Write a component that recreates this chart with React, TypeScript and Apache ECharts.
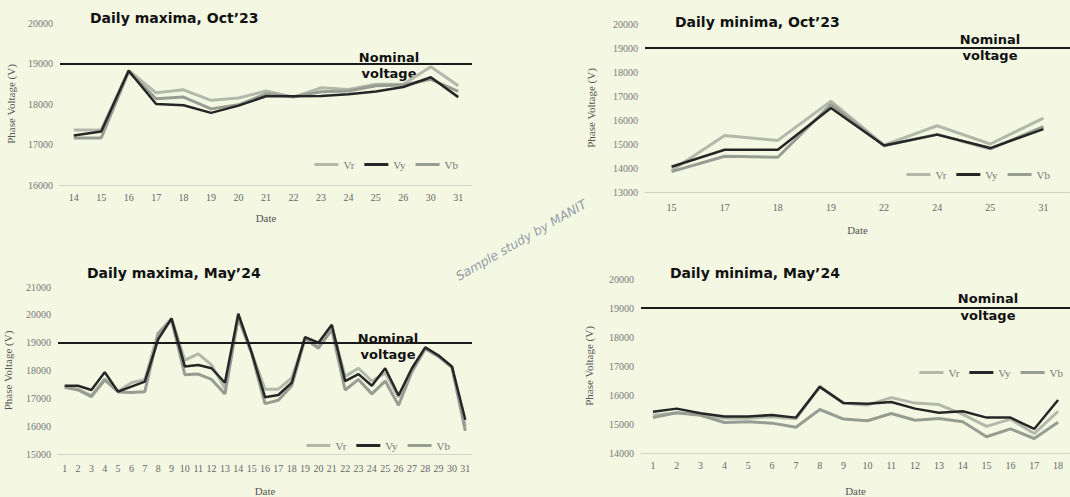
import React, { useEffect, useRef } from "react";
import * as echarts from "echarts";

// Panel 1: Daily maxima, Oct'23
const oct23MaxDates = ["14", "15", "16", "17", "18", "19", "20", "21", "22", "23", "24", "25", "26", "30", "31"];
const oct23MaxVr = [17360, 17360, 18830, 18275, 18350, 18090, 18150, 18320, 18170, 18400, 18360, 18490, 18490, 18920, 18450];
const oct23MaxVy = [17220, 17320, 18820, 18000, 17970, 17780, 17960, 18190, 18190, 18200, 18240, 18310, 18420, 18660, 18170];
const oct23MaxVb = [17160, 17160, 18800, 18130, 18170, 17880, 17980, 18250, 18180, 18300, 18320, 18450, 18470, 18610, 18310];

// Panel 2: Daily minima, Oct'23
const oct23MinDates = ["15", "17", "18", "19", "22", "24", "25", "31"];
const oct23MinVr = [13900, 15350, 15150, 16780, 14950, 15760, 15000, 16080];
const oct23MinVy = [14050, 14760, 14760, 16500, 14940, 15390, 14830, 15620];
const oct23MinVb = [13850, 14490, 14450, 16650, 14930, 15400, 14800, 15720];

// Panel 3: Daily maxima, May'24
const may24MaxDates = ["1", "2", "3", "4", "5", "6", "7", "8", "9", "10", "11", "12", "13", "14", "15", "16", "17", "18", "19", "20", "21", "22", "23", "24", "25", "26", "27", "28", "29", "30", "31"];
const may24MaxVr = [17430, 17330, 17100, 17700, 17250, 17560, 17680, 19350, 19870, 18370, 18600, 18200, 17350, 19920, 18650, 17330, 17330, 17730, 19150, 18850, 19600, 17790, 18080, 17620, 17910, 17040, 18000, 18800, 18520, 18150, 16000];
const may24MaxVy = [17450, 17450, 17300, 17940, 17240, 17420, 17600, 19120, 19870, 18140, 18200, 18080, 17560, 20040, 18650, 17040, 17120, 17560, 19200, 19000, 19640, 17620, 17870, 17450, 18080, 17100, 18080, 18830, 18540, 18140, 16230];
const may24MaxVb = [17400, 17300, 17060, 17660, 17230, 17210, 17240, 19300, 19820, 17850, 17870, 17680, 17160, 19900, 18600, 16810, 16930, 17450, 19150, 18800, 19460, 17300, 17680, 17160, 17620, 16750, 17950, 18780, 18500, 18100, 15830];

// Panel 4: Daily minima, May'24
const may24MinDates = ["1", "2", "3", "4", "5", "6", "7", "8", "9", "10", "11", "12", "13", "14", "15", "16", "17", "18"];
const may24MinVr = [15300, 15390, 15330, 15200, 15200, 15250, 15180, 16300, 15720, 15650, 15910, 15720, 15670, 15330, 14920, 15170, 14670, 15440];
const may24MinVy = [15420, 15530, 15370, 15260, 15260, 15310, 15220, 16280, 15720, 15700, 15760, 15530, 15390, 15440, 15220, 15220, 14830, 15830];
const may24MinVb = [15220, 15390, 15300, 15050, 15080, 15030, 14890, 15500, 15170, 15110, 15360, 15130, 15190, 15080, 14560, 14830, 14500, 15060];

const nominalVoltage = 19000;
const phaseNames = ["Vr", "Vy", "Vb"];

const COLORS: Record<string, string> = { Vr: "#b3b8ab", Vy: "#262626", Vb: "#979d93" };
const BG = "#f4f8e3";
const SERIF = "'Liberation Serif', 'DejaVu Serif', serif";
const SANS = "'DejaVu Sans', Verdana, sans-serif";

export default function App() {
  const ref = useRef<HTMLDivElement>(null);
  useEffect(() => {
    document.body.style.margin = "0";
    document.body.style.background = BG;
    if (!ref.current) return;
    const chart = echarts.init(ref.current, undefined, { renderer: "svg" });

    const panels = [
      { title: "Daily maxima, Oct\u201923", cats: oct23MaxDates, vr: oct23MaxVr, vy: oct23MaxVy, vb: oct23MaxVb, min: 16000, max: 20000,
        grid: { left: 60, top: 23, width: 412, height: 162 }, titlePos: { left: 90, top: 11 }, nameGap: 44, labelMargin: 7, dateGap: 27,
        legend: { right: 612, top: 159 }, nominal: { x: 389, y1: 57, y2: 73 } },
      { title: "Daily minima, Oct\u201923", cats: oct23MinDates, vr: oct23MinVr, vy: oct23MinVy, vb: oct23MinVb, min: 13000, max: 20000,
        grid: { left: 645, top: 24, width: 425, height: 168 }, titlePos: { left: 675, top: 15 }, nameGap: 49, labelMargin: 10, dateGap: 32,
        legend: { right: 20, top: 169 }, nominal: { x: 990, y1: 39, y2: 55 } },
      { title: "Daily maxima, May\u201924", cats: may24MaxDates, vr: may24MaxVr, vy: may24MaxVy, vb: may24MaxVb, min: 15000, max: 21000,
        grid: { left: 58, top: 287, width: 414, height: 174 }, titlePos: { left: 87, top: 266 }, nameGap: 45, labelMargin: 9, dateGap: 31,
        legend: { right: 620, top: 440 }, nominal: { x: 388, y1: 338, y2: 354 } },
      { title: "Daily minima, May\u201924", cats: may24MinDates, vr: may24MinVr, vy: may24MinVy, vb: may24MinVb, min: 14000, max: 20000,
        grid: { left: 641, top: 279, width: 441, height: 181 }, titlePos: { left: 670, top: 266 }, nameGap: 47, labelMargin: 7, dateGap: 32,
        legend: { right: 7, top: 367 }, nominal: { x: 988, y1: 298, y2: 315 } },
    ];

    const grid: any[] = [];
    const xAxis: any[] = [];
    const yAxis: any[] = [];
    const series: any[] = [];
    const legend: any[] = [];
    const title: any[] = [];
    const graphic: any[] = [];

    panels.forEach((p, i) => {
      grid.push({ ...p.grid, containLabel: false });
      xAxis.push({
        type: "category", gridIndex: i, data: p.cats, boundaryGap: true,
        name: "Date", nameLocation: "middle", nameGap: p.dateGap,
        nameTextStyle: { fontFamily: SERIF, fontSize: 11, color: "#555" },
        axisLine: { show: true, lineStyle: { color: "#c9ccc0", type: "dotted", width: 1 } },
        axisTick: { show: false },
        axisLabel: { fontFamily: SERIF, fontSize: 10, color: "#666", margin: p.labelMargin, interval: 0 },
      });
      yAxis.push({
        type: "value", gridIndex: i, min: p.min, max: p.max, interval: 1000,
        name: "Phase Voltage (V)", nameLocation: "middle", nameGap: p.nameGap,
        nameTextStyle: { fontFamily: SERIF, fontSize: 11, color: "#555" },
        axisLine: { show: false }, axisTick: { show: false }, splitLine: { show: false },
        axisLabel: { fontFamily: SERIF, fontSize: 10, color: "#777", margin: 7, formatter: (v: number) => String(v) },
      });
      const vals: Record<string, number[]> = { Vr: p.vr, Vy: p.vy, Vb: p.vb };
      ["Vr", "Vb", "Vy"].forEach((name) => {
        series.push({
          name, type: "line", xAxisIndex: i, yAxisIndex: i, data: vals[name],
          symbol: "none", color: COLORS[name],
          lineStyle: { width: name === "Vy" ? 2.5 : 3, color: COLORS[name] },
          z: name === "Vy" ? 4 : 3,
          markLine: name === "Vy" ? {
            silent: true, symbol: "none", label: { show: false },
            lineStyle: { color: "#1a1a1a", width: 2, type: "solid" },
            data: [{ yAxis: nominalVoltage }],
          } : undefined,
        });
      });
      legend.push({
        data: phaseNames, right: p.legend.right, top: p.legend.top, icon: "rect",
        itemWidth: 24, itemHeight: 3, itemGap: 10, padding: 0,
        textStyle: { fontFamily: SERIF, fontSize: 11, color: "#777" },
      });
      title.push({
        text: p.title, left: p.titlePos.left, top: p.titlePos.top, padding: 0,
        textStyle: { fontFamily: SANS, fontSize: 14, fontWeight: "bold", color: "#111" },
      });
      graphic.push({
        type: "text", x: p.nominal.x, y: p.nominal.y1, silent: true,
        style: { text: "Nominal", fill: "#111", font: `bold 13px ${SANS}`, textAlign: "center", textVerticalAlign: "middle" },
      });
      graphic.push({
        type: "text", x: p.nominal.x, y: p.nominal.y2, silent: true,
        style: { text: "voltage", fill: "#111", font: `bold 13px ${SANS}`, textAlign: "center", textVerticalAlign: "middle" },
      });
    });

    graphic.push({
      type: "text", x: 521, y: 240, rotation: (30 * Math.PI) / 180, silent: true,
      style: { text: "Sample study by MANIT", fill: "#939ca6", font: `italic 12.5px ${SANS}`, textAlign: "center", textVerticalAlign: "middle" },
    });

    chart.setOption({
      animation: false,
      backgroundColor: BG,
      title, grid, xAxis, yAxis, series, legend, graphic,
    });
    return () => chart.dispose();
  }, []);
  return <div ref={ref} style={{ width: 1070, height: 497 }} />;
}
